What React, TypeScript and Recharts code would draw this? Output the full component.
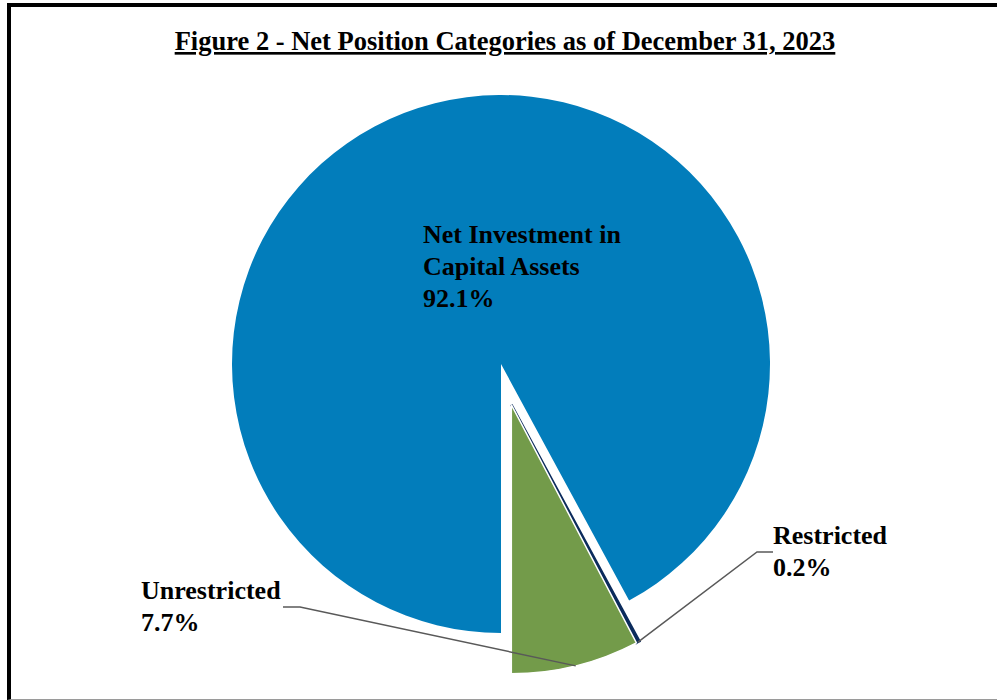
import { PieChart, Pie, Cell } from "recharts";

// net position shares, % of total
const categories = ["Net Investment in Capital Assets", "Restricted", "Unrestricted"];
const shares = [92.1, 0.2, 7.7];
const labelLines = [["Net Investment in", "Capital Assets"], ["Restricted"], ["Unrestricted"]];
const pctLabels = ["92.1%", "0.2%", "7.7%"];
const exploded = [false, true, true];

const colors = ["#027DBB", "#0B2B5C", "#739B4A"];
const FONT = '"Liberation Serif", "Times New Roman", serif';

const W = 997;
const H = 700;
const CX = 501;
const CY = 364;
const R = 269;
const START = -90;
const END = START - 360;
const EXPLODE = 42;

const data = categories.map((name, i) => ({ name, value: shares[i] }));

// pull the small slices out together along their shared mid angle
const total = shares.reduce((a, b) => a + b, 0);
const before = shares.filter((_, i) => !exploded[i] && i < exploded.indexOf(true)).reduce((a, b) => a + b, 0);
const groupVal = shares.filter((_, i) => exploded[i]).reduce((a, b) => a + b, 0);
const groupMid = START - ((before + groupVal / 2) / total) * 360;
const RAD = Math.PI / 180;
const DX = EXPLODE * Math.cos(-groupMid * RAD);
const DY = EXPLODE * Math.sin(-groupMid * RAD);

// label anchors relative to pie centre: text pos, leader elbow, leader end
const layout: Record<number, { tx: number; ty: number; elbow?: [number, number]; end?: [number, number] }> = {
  0: { tx: -78, ty: -121 },
  1: { tx: 272, ty: 180, elbow: [256, 188], end: [272, 188] },
  2: { tx: -360, ty: 235, elbow: [-201, 243], end: [-218, 243] },
};

const makeLabel = (showExploded: boolean) => (props: any) => {
  const { index, cx, cy, midAngle, outerRadius } = props;
  if (exploded[index] !== showExploded) return <g />;
  const l = layout[index];
  const lines = [...labelLines[index], pctLabels[index]];
  const px = cx + outerRadius * Math.cos(-midAngle * RAD);
  const py = cy + outerRadius * Math.sin(-midAngle * RAD);
  return (
    <g>
      {l.elbow && l.end && (
        <polyline
          points={`${px},${py} ${CX + l.elbow[0]},${CY + l.elbow[1]} ${CX + l.end[0]},${CY + l.end[1]}`}
          fill="none"
          stroke="#595959"
          strokeWidth={1.5}
        />
      )}
      <text x={CX + l.tx} y={CY + l.ty} fontFamily={FONT} fontWeight="bold" fontSize={26} fill="#000">
        {lines.map((t, j) => (
          <tspan key={j} x={CX + l.tx} dy={j === 0 ? 0 : 32}>
            {t}
          </tspan>
        ))}
      </text>
    </g>
  );
};

export default function App() {
  return (
    <div style={{ position: "absolute", left: 0, top: 0, width: W, height: H, background: "#fff", overflow: "hidden" }}>
      <div
        style={{
          position: "absolute",
          left: 7,
          top: 3,
          width: 1010,
          height: 692,
          borderLeft: "4px solid #000",
          borderTop: "4px solid #000",
          borderBottom: "1px solid #9a9a9a",
        }}
      />
      <svg width={W} height={H} style={{ position: "absolute", left: 0, top: 0 }}>
        <text
          x={505}
          y={50}
          textAnchor="middle"
          fontFamily={FONT}
          fontWeight="bold"
          fontSize={26.5}
          textDecoration="underline"
          fill="#000"
        >
          Figure 2 - Net Position Categories as of December 31, 2023
        </text>
      </svg>
      <div style={{ position: "absolute", left: 0, top: 0 }}>
        <PieChart width={W} height={H} margin={{ top: 0, right: 0, bottom: 0, left: 0 }}>
          <Pie
            data={data}
            dataKey="value"
            nameKey="name"
            cx={CX}
            cy={CY}
            outerRadius={R}
            startAngle={START}
            endAngle={END}
            label={makeLabel(false)}
            labelLine={false}
            isAnimationActive={false}
          >
            {data.map((d, i) => (
              <Cell key={d.name} fill={exploded[i] ? "none" : colors[i]} stroke="none" />
            ))}
          </Pie>
          <Pie
            data={data}
            dataKey="value"
            nameKey="name"
            cx={CX + DX}
            cy={CY + DY}
            outerRadius={R}
            startAngle={START}
            endAngle={END}
            label={makeLabel(true)}
            labelLine={false}
            isAnimationActive={false}
          >
            {data.map((d, i) => (
              <Cell
                key={d.name}
                fill={exploded[i] ? colors[i] : "none"}
                stroke={!exploded[i] ? "none" : i === 1 ? colors[i] : "#fff"}
                strokeWidth={i === 1 ? 2.5 : 1.5}
              />
            ))}
          </Pie>
        </PieChart>
      </div>
    </div>
  );
}
